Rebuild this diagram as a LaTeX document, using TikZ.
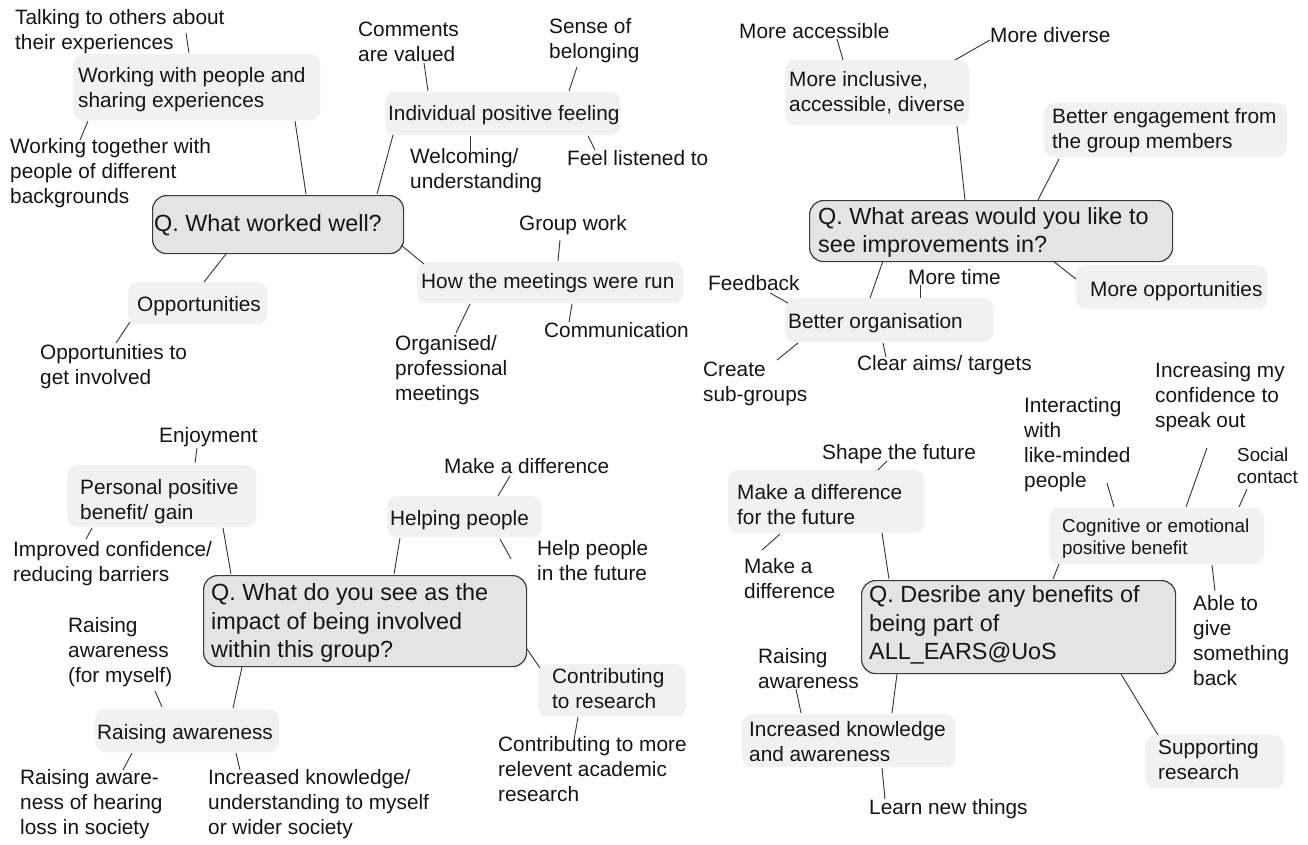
\documentclass[tikz,border=0pt]{standalone}
\usepackage{fontspec}
\setmainfont{Liberation Sans}
\definecolor{boxfill}{HTML}{F1F1F1}
\definecolor{qfill}{HTML}{E4E4E4}
\definecolor{qdraw}{HTML}{3A3A3A}
\definecolor{linecol}{HTML}{333333}
\definecolor{txt}{HTML}{151515}
\newcommand\fl{\fontsize{20.8}{25}\selectfont}
\newcommand\fq{\fontsize{23.4}{28.5}\selectfont}
\newcommand\fsm{\fontsize{18.8}{22.5}\selectfont}
\newcommand\rb[6]{\pgfmathsetmacro\rbw{#5-#3}\pgfmathsetmacro\rbh{#6-#4}\node[#1,minimum width=\rbw pt,minimum height=\rbh pt] (#2) at (#3,#4) {};}
\newcommand\cn[5]{\coordinate (#1a) at (#2,#3); \coordinate (#1b) at (#4,#5); \draw[con] (#1a) -- (#1b);}
\tikzset{
  txtbase/.style={anchor=west, inner sep=0pt, align=left, text=txt,
    execute at begin node=\strut, execute at end node=\strut},
  lf/.style={txtbase, font=\fl, yshift=-2.5pt},
  lq/.style={txtbase, font=\fq, yshift=-2.7pt},
  ls/.style={txtbase, font=\fsm, yshift=-2.2pt},
  bx/.style={anchor=north west, inner sep=0pt, fill=boxfill, rounded corners=10pt},
  qb/.style={anchor=north west, inner sep=0pt, fill=qfill, draw=qdraw, line width=1.2pt, rounded corners=14pt},
  con/.style={draw=linecol, line width=0.9pt}
}
\begin{document}
\begin{tikzpicture}[x=1pt,y=-1pt]
\useasboundingbox (0,0) rectangle (1308,844);
\fill[white] (0,0) rectangle (1308,844);

% ---------- Q1: What worked well ----------
\rb{bx}{work}{73}{54}{320}{120}
\rb{bx}{ind}{385}{92}{620}{135}
\rb{bx}{meet}{417}{262}{683}{303}
\rb{bx}{opp}{128}{282}{267}{324}
\rb{qb}{qa}{152}{195}{403}{253}

\node[lf] (workT) at (78,88.5) {Working with people and\\sharing experiences};
\node[lf] (indT) at (388,113) {Individual positive feeling};
\node[lf] (meetT) at (421,281) {How the meetings were run};
\node[lf] (oppT) at (137,304) {Opportunities};
\node[lq] (qaT) at (154,223) {Q. What worked well?};

\node[lf] (talk) at (15,30.5) {Talking to others about\\their experiences};
\node[lf] (together) at (10,172) {Working together with\\people of different\\backgrounds};
\node[lf] (comm) at (358,42.5) {Comments\\are valued};
\node[lf] (sense) at (549,40) {Sense of\\belonging};
\node[lf] (welc) at (410,170) {Welcoming/\\understanding};
\node[lf] (feel) at (567,158) {Feel listened to};
\node[lf] (group) at (519,223) {Group work};
\node[lf] (commu) at (544,330) {Communication};
\node[lf] (organ) at (395,369.5) {Organised/\\professional\\meetings};
\node[lf] (oppin) at (40,366) {Opportunities to\\get involved};

\cn{k1}{186}{33}{189}{53}
\cn{k2}{88}{121}{80}{140}
\cn{k3}{295}{121}{306}{194}
\cn{k4}{393}{135}{377}{194}
\cn{k5}{424}{63}{428}{91}
\cn{k6}{577}{67}{569}{91}
\cn{k7}{470}{136}{470}{152}
\cn{k8}{588}{136}{595}{150}
\cn{k9}{560}{240}{558}{261}
\cn{k10}{401}{245}{424}{264}
\cn{k11}{572}{304}{569}{322}
\cn{k12}{470}{304}{456}{333}
\cn{k13}{226}{254}{204}{282}
\cn{k14}{130}{322}{116}{343}

% ---------- Q2: improvements ----------
\rb{bx}{incl}{785}{60}{969}{125}
\rb{bx}{eng}{1044}{103}{1287}{157}
\rb{bx}{mopp}{1076}{265}{1267}{309}
\rb{bx}{org}{785}{298}{993}{342}
\rb{qb}{qb2}{809}{200}{1172}{261}

\node[lf] (inclT) at (789,92.5) {More inclusive,\\accessible, diverse};
\node[lf] (engT) at (1052,129.5) {Better engagement from\\the group members};
\node[lf] (moppT) at (1090,289) {More opportunities};
\node[lf] (orgT) at (788,321) {Better organisation};
\node[lq] (qbT) at (818,231.5) {Q. What areas would you like to\\see improvements in?};

\node[lf] (macc) at (739,31) {More accessible};
\node[lf] (mdiv) at (990,35) {More diverse};
\node[lf] (mtime) at (908,277) {More time};
\node[lf] (feed) at (708,283) {Feedback};
\node[lf] (creat) at (703,382.5) {Create\\sub-groups};
\node[lf] (clear) at (857,363) {Clear aims/ targets};

\cn{m1}{837}{39}{843}{60}
\cn{m2}{955}{60}{990}{40}
\cn{m3}{957}{126}{965}{200}
\cn{m4}{1059}{159}{1038}{200}
\cn{m5}{1053}{261}{1076}{279}
\cn{m6}{920}{285}{920}{298}
\cn{m7}{883}{261}{870}{298}
\cn{m8}{770}{293}{788}{303}
\cn{m9}{798}{343}{777}{360}
\cn{m10}{883}{343}{886}{357}

% ---------- Q3: impact ----------
\rb{bx}{pers}{67}{465}{256}{527}
\rb{bx}{help}{387}{496}{542}{537}
\rb{bx}{contr}{538}{664}{686}{716}
\rb{bx}{raise}{95}{709}{279}{752}
\rb{qb}{qc}{203}{575}{526}{666}

\node[lf] (persT) at (80,500.5) {Personal positive\\benefit/ gain};
\node[lf] (helpT) at (390,518) {Helping people};
\node[lf] (contrT) at (552,690) {Contributing\\to research};
\node[lf] (raiseT) at (97,732) {Raising awareness};
\node[lq] (qcT) at (211,622.5) {Q. What do you see as the\\impact of being involved\\within this group?};

\node[lf] (enjoy) at (159,435) {Enjoyment};
\node[lf] (impr) at (13,562.5) {Improved confidence/\\reducing barriers};
\node[lf] (makea) at (444,466) {Make a difference};
\node[lf] (helpf) at (537,561.5) {Help people\\in the future};
\node[lf] (contm) at (498,770) {Contributing to more\\relevent academic\\research};
\node[lf] (raisf) at (68,651) {Raising\\awareness\\(for myself)};
\node[lf] (raish) at (20,803) {Raising aware-\\ness of hearing\\loss in society};
\node[lf] (incr) at (208,803) {Increased knowledge/\\understanding to myself\\or wider society};

\cn{n1}{197}{448}{195}{463}
\cn{n2}{92}{528}{86}{539}
\cn{n3}{223}{528}{231}{574}
\cn{n4}{510}{476}{498}{496}
\cn{n5}{400}{538}{394}{574}
\cn{n6}{500}{539}{511}{559}
\cn{n7}{527}{649}{540}{668}
\cn{n8}{578}{717}{574}{740}
\cn{n9}{242}{667}{233}{708}
\cn{n10}{155}{691}{162}{707}
\cn{n11}{132}{753}{123}{770}
\cn{n12}{236}{753}{240}{770}

% ---------- Q4: benefits ----------
\rb{bx}{mdf}{728}{470}{924}{533}
\rb{bx}{cog}{1049}{508}{1264}{564}
\rb{bx}{supp}{1145}{735}{1284}{788}
\rb{bx}{inc}{742}{714}{955}{767}
\rb{qb}{qd}{861}{580}{1175}{673}

\node[lf] (mdfT) at (737,505.5) {Make a difference\\for the future};
\node[ls] (cogT) at (1062,538) {Cognitive or emotional\\positive benefit};
\node[lf] (suppT) at (1158,760.5) {Supporting\\research};
\node[lf] (incT) at (749,742.5) {Increased knowledge\\and awareness};
\node[lq] (qdT) at (869,624.5) {Q. Desribe any benefits of\\being part of\\ALL\_EARS@UoS};

\node[lf] (shape) at (822,452) {Shape the future};
\node[lf] (mkad) at (744,580) {Make a\\difference};
\node[lf] (inter) at (1024,443.5) {Interacting\\with\\like-minded\\people};
\node[lf] (confi) at (1155,396) {Increasing my\\confidence to\\speak out};
\node[ls] (socia) at (1237,467) {Social\\contact};
\node[lf] (able) at (1193,641.5) {Able to\\give\\something\\back};
\node[lf] (raisa) at (758,670) {Raising\\awareness};
\node[lf] (learn) at (869,807) {Learn new things};

\cn{p1}{887}{461}{878}{470}
\cn{p2}{780}{534}{762}{550}
\cn{p3}{882}{533}{889}{579}
\cn{p4}{1053}{579}{1059}{564}
\cn{p5}{1107}{483}{1114}{507}
\cn{p6}{1207}{448}{1186}{507}
\cn{p7}{1247}{489}{1239}{507}
\cn{p8}{1212}{565}{1215}{591}
\cn{p9}{1121}{674}{1158}{735}
\cn{p10}{796}{689}{801}{713}
\cn{p11}{897}{674}{892}{713}
\cn{p12}{882}{768}{885}{799}
\end{tikzpicture}
\end{document}
